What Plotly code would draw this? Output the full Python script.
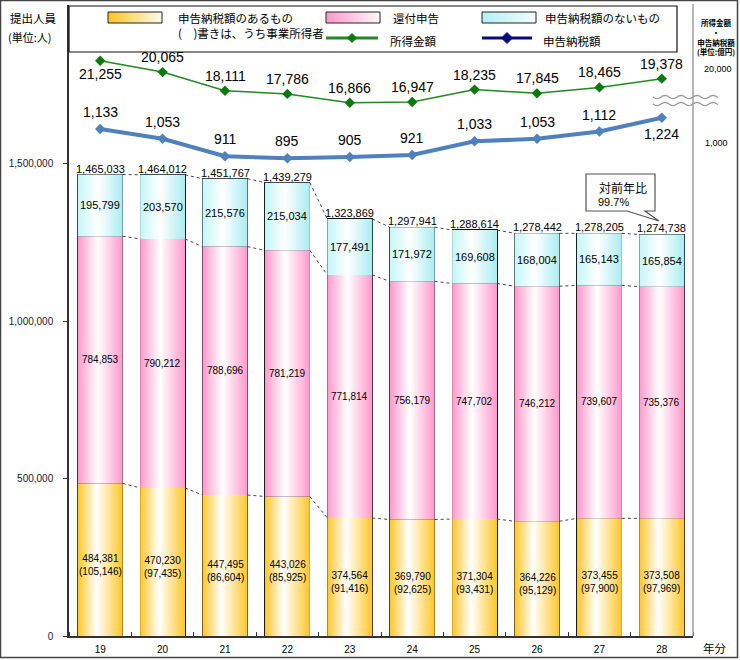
import math
import plotly.graph_objects as go

# ---------------- data ----------------
years = ["19", "20", "21", "22", "23", "24", "25", "26", "27", "28"]
tax_payers = [484381, 470230, 447495, 443026, 374564, 369790, 371304, 364226, 373455, 373508]
business = [105146, 97435, 86604, 85925, 91416, 92625, 93431, 95129, 97900, 97969]
refund = [784853, 790212, 788696, 781219, 771814, 756179, 747702, 746212, 739607, 735376]
no_tax = [195799, 203570, 215576, 215034, 177491, 171972, 169608, 168004, 165143, 165854]
income = [21255, 20065, 18111, 17786, 16866, 16947, 18235, 17845, 18465, 19378]
tax_amount = [1133, 1053, 911, 895, 905, 921, 1033, 1053, 1112, 1224]
y_ticks = [0, 500000, 1000000, 1500000]

totals = [a + b + c for a, b, c in zip(tax_payers, refund, no_tax)]
ratio = totals[-1] / totals[-2] * 100

# ---------------- geometry ----------------
W, H = 740, 660
ML, MR, MT, MB = 69, 47, 5, 24
PW, PH = W - ML - MR, H - MT - MB
HW = 0.36  # half bar width in category units


def px(x):
    return (x - ML) / PW


def py(y):
    return (H - MB - y) / PH


FONT_NUM = "Liberation Sans, Arial, Noto Sans CJK JP"
FONT_JP = "Noto Sans CJK JP, Liberation Sans"

xs = list(range(len(years)))
fig = go.Figure()

segments = [
    ("申告納税額のあるもの", tax_payers, [[0, "#FFC629"], [0.42, "#FFFFFF"], [1, "#FFC629"]]),
    ("還付申告", refund, [[0, "#FF99CC"], [0.45, "#FFFFFF"], [1, "#FF99CC"]]),
    ("申告納税額のないもの", no_tax, [[0, "#C4F6FA"], [0.45, "#FFFFFF"], [1, "#A9ECF2"]]),
]

# gradient fills (behind the bars)
bases = [0] * len(xs)
levels = []
for name, vals, cs in segments:
    tops = [b + v for b, v in zip(bases, vals)]
    for i in xs:
        fig.add_trace(go.Scatter(
            x=[i - HW, i + HW, i + HW, i - HW, i - HW],
            y=[bases[i], bases[i], tops[i], tops[i], bases[i]],
            mode="lines", line=dict(width=0, color="rgba(0,0,0,0)"),
            fill="toself", fillgradient=dict(type="horizontal", colorscale=cs),
            hoverinfo="skip", showlegend=False))
    levels.append(tops)
    bases = tops

# real stacked bars (outlines)
for name, vals, cs in segments:
    fig.add_trace(go.Bar(
        x=xs, y=vals, name=name, width=2 * HW,
        marker=dict(color="rgba(0,0,0,0)", line=dict(color="#111111", width=1.2)),
        showlegend=False))

# dashed connector lines between bars
for tops in levels:
    cx, cy = [], []
    for i in xs[:-1]:
        cx += [i + HW, i + 1 - HW, None]
        cy += [tops[i], tops[i + 1], None]
    fig.add_trace(go.Scatter(x=cx, y=cy, mode="lines",
                             line=dict(color="#444444", width=1, dash="dot"),
                             hoverinfo="skip", showlegend=False))

# lines
fig.add_trace(go.Scatter(x=xs, y=income, yaxis="y2", mode="lines+markers", name="所得金額",
                         line=dict(color="#1E8C1E", width=1.5),
                         marker=dict(symbol="diamond", size=8, color="#0A7A0A"),
                         showlegend=False))
fig.add_trace(go.Scatter(x=xs, y=tax_amount, yaxis="y3", mode="lines+markers", name="申告納税額",
                         line=dict(color="#4F81BD", width=4),
                         marker=dict(symbol="diamond", size=8, color="#4F81BD"),
                         showlegend=False))

ann = []
# bar labels
for i in xs:
    ann.append(dict(x=i, y=totals[i], xref="x", yref="y", text=f"{totals[i]:,}",
                    showarrow=False, yanchor="bottom", yshift=-2,
                    font=dict(size=11, family=FONT_NUM)))
    ann.append(dict(x=i, y=levels[1][i] + no_tax[i] / 2, xref="x", yref="y",
                    text=f"{no_tax[i]:,}", showarrow=False,
                    font=dict(size=11, family=FONT_NUM)))
    ann.append(dict(x=i, y=levels[0][i] + refund[i] / 2, xref="x", yref="y",
                    text=f"{refund[i]:,}", showarrow=False,
                    font=dict(size=10, family=FONT_NUM)))
    ann.append(dict(x=i, y=tax_payers[i] / 2, xref="x", yref="y", yshift=-5,
                    text=f"{tax_payers[i]:,}<br>({business[i]:,})", showarrow=False,
                    font=dict(size=10, family=FONT_NUM)))
# line labels
for i in xs:
    below = (i == 0)
    ann.append(dict(x=i, y=income[i], xref="x", yref="y2", text=f"{income[i]:,}",
                    showarrow=False, yshift=-13 if below else 15,
                    font=dict(size=14, family=FONT_NUM)))
    below = (i == len(xs) - 1)
    ann.append(dict(x=i, y=tax_amount[i], xref="x", yref="y3", text=f"{tax_amount[i]:,}",
                    showarrow=False, yshift=-16 if below else 17,
                    font=dict(size=14, family=FONT_NUM)))


def pann(x, y, text, size, family=FONT_JP, xanchor="left"):
    return dict(x=px(x), y=py(y), xref="paper", yref="paper", xanchor=xanchor,
                yanchor="middle", text=text, showarrow=False,
                font=dict(size=size, family=family))


# titles / side texts
ann += [
    pann(8, 18, "提出人員", 11.5),
    pann(6, 37, "(単位:人)", 11),
    pann(716, 37, "<b>所得金額<br>・<br>申告納税額<br>(単位:億円)</b>", 7.5, xanchor="center"),
    pann(701, 648, "年分", 11.5),
    pann(597, 187, "対前年比", 12),
    pann(596, 202, f"{ratio:.1f}%", 11, family=FONT_NUM),
]

# legend texts
legend_texts = [
    (176, 18, "申告納税額のあるもの"),
    (176, 33, "(　)書きは、うち事業所得者"),
    (391, 18, "還付申告"),
    (543, 18, "申告納税額のないもの"),
    (388, 41, "所得金額"),
    (541, 41, "申告納税額"),
]
for x, y, t in legend_texts:
    ann.append(pann(x, y, t, 11.5))

shapes = []
# outer frame
shapes.append(dict(type="rect", xref="paper", yref="paper", x0=px(0.5), x1=px(737.5),
                   y0=py(657.5), y1=py(0.5), line=dict(color="#444444", width=1.5)))
# right plot border
shapes.append(dict(type="line", xref="paper", yref="paper", x0=1, x1=1, y0=0, y1=py(4),
                   line=dict(color="#A0A0A0", width=1.5)))
# legend box
shapes.append(dict(type="rect", xref="paper", yref="paper", x0=px(69), x1=px(677),
                   y0=py(52), y1=py(6), line=dict(color="#111111", width=1.2),
                   fillcolor="white", layer="above"))


def hexmix(c, t):
    r, g, b = int(c[1:3], 16), int(c[3:5], 16), int(c[5:7], 16)
    r = round(r + (255 - r) * t)
    g = round(g + (255 - g) * t)
    b = round(b + (255 - b) * t)
    return f"rgb({r},{g},{b})"


def swatch(x0, x1, y0, y1, col, endt=0.9):
    n = 18
    w = (x1 - x0) / n
    for k in range(n):
        shapes.append(dict(type="rect", xref="paper", yref="paper",
                           x0=px(x0 + k * w), x1=px(x0 + (k + 1) * w + 0.3),
                           y0=py(y1), y1=py(y0), line=dict(width=0),
                           fillcolor=hexmix(col, endt * k / (n - 1)), layer="above"))
    shapes.append(dict(type="rect", xref="paper", yref="paper", x0=px(x0), x1=px(x1),
                       y0=py(y1), y1=py(y0), line=dict(color="#222222", width=1),
                       layer="above"))


swatch(108, 162, 12, 23, "#FFC629")
swatch(326, 380, 12, 23, "#FF99CC")
swatch(482, 536, 12, 23, "#B5F0F5", 0.8)


def diamond(cx, cy, r, col):
    pts = [(cx, cy - r), (cx + r, cy), (cx, cy + r), (cx - r, cy)]
    d = "M " + " L ".join(f"{px(a)},{py(b)}" for a, b in pts) + " Z"
    shapes.append(dict(type="path", xref="paper", yref="paper", path=d,
                       fillcolor=col, line=dict(color=col, width=1), layer="above"))


shapes.append(dict(type="line", xref="paper", yref="paper", x0=px(326), x1=px(378),
                   y0=py(38), y1=py(38), line=dict(color="#1E8C1E", width=3), layer="above"))
diamond(352, 38, 4.5, "#0A7A0A")
shapes.append(dict(type="line", xref="paper", yref="paper", x0=px(482), x1=px(532),
                   y0=py(38), y1=py(38), line=dict(color="#0A0A80", width=3), layer="above"))
diamond(507, 38, 5.5, "#0A0A80")

# callout box
cpts = [(586, 174), (655, 174), (655, 211), (645, 211), (659, 221), (627, 211), (586, 211)]
cpath = "M " + " L ".join(f"{px(a)},{py(b)}" for a, b in cpts) + " Z"
shapes.append(dict(type="path", xref="paper", yref="paper", path=cpath,
                   fillcolor="white", line=dict(color="#555555", width=1.2), layer="above"))

# axis-break wavy marks
for yy in (97, 104):
    pts = []
    x = 653.0
    while x <= 718:
        pts.append((x, yy + 1.6 * math.sin((x - 653) / 16 * 2 * math.pi)))
        x += 1
    wpath = "M " + " L ".join(f"{px(a)},{py(b)}" for a, b in pts)
    shapes.append(dict(type="path", xref="paper", yref="paper", path=wpath,
                       line=dict(color="#9A9A9A", width=1.3), layer="above"))

Y_TOP = PH / 157.5 * 500000

fig.update_layout(
    width=W, height=H,
    margin=dict(l=ML, r=MR, t=MT, b=MB, pad=0),
    paper_bgcolor="white", plot_bgcolor="white",
    barmode="stack", showlegend=False,
    font=dict(family=FONT_NUM, size=10, color="#000000"),
    xaxis=dict(range=[-0.5, len(xs) - 0.5], tickvals=xs, ticktext=years,
               showgrid=False, zeroline=False, showline=True, linecolor="#333333",
               linewidth=1.5, ticks="", tickfont=dict(size=10, family=FONT_NUM),
               ticklabelstandoff=3,
               minor=dict(ticks="inside", tickvals=[i - 0.5 for i in range(len(xs) + 1)],
                          ticklen=4, tickcolor="#333333", showgrid=False)),
    yaxis=dict(range=[0, Y_TOP], tickvals=y_ticks, tickformat=",d",
               showgrid=False, zeroline=False, showline=True, linecolor="#333333",
               linewidth=1.5, ticks="outside", ticklen=4, tickcolor="#333333",
               tickfont=dict(size=10, family=FONT_NUM, color="#1A1A33"),
               ticklabelstandoff=8),
    yaxis2=dict(overlaying="y", side="right", anchor="x", range=[-38860, 27075],
                tickvals=[20000], ticktext=["20,000"], showgrid=False, zeroline=False,
                showline=False, ticks="", tickfont=dict(size=9, family=FONT_NUM),
                ticklabelstandoff=10, ticklabelshift=-4),
    yaxis3=dict(overlaying="y", side="right", anchor="x", range=[-2986, 2140],
                tickvals=[1000], ticktext=["1,000"], showgrid=False, zeroline=False,
                showline=False, ticks="", tickfont=dict(size=9, family=FONT_NUM),
                ticklabelstandoff=11, ticklabelshift=-2),
    annotations=ann,
    shapes=shapes,
)

fig.write_html("out.html", config={"displayModeBar": False},
               post_script="document.body.style.margin='0px';")
